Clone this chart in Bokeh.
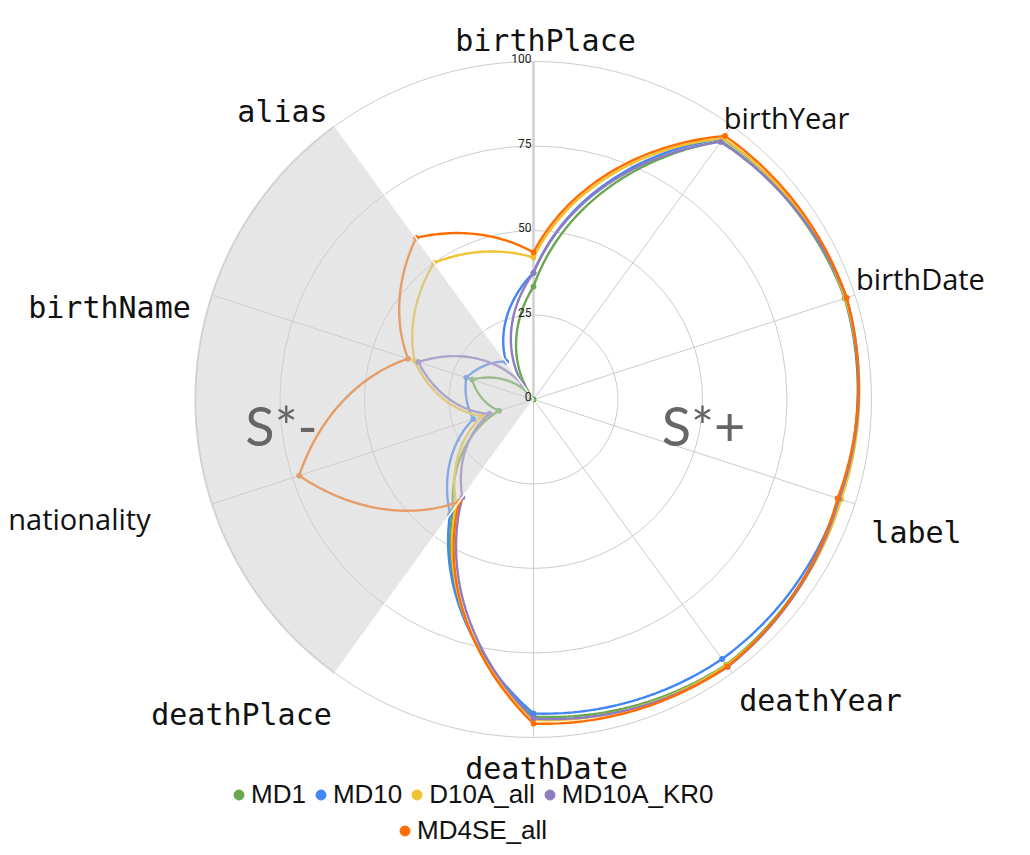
import numpy as np
from bokeh.plotting import figure
from bokeh.models import Range1d, Legend, LegendItem
from bokeh.core.properties import value
from bokeh.embed import file_html
from bokeh.resources import INLINE

# ---------------- data ----------------
axes = ["birthPlace", "birthYear", "birthDate", "label", "deathYear",
        "deathDate", "deathPlace", "nationality", "birthName", "alias"]
series_names = ["MD1", "MD10", "D10A_all", "MD10A_KR0", "MD4SE_all"]
md1 = [33.4, 94.5, 96.8, 95.0, 97.0, 93.8, 40.5, 10.7, 19.1, 0.0]
md10 = [37.5, 95.4, 97.0, 95.0, 94.9, 92.9, 42.0, 18.7, 20.9, 13.8]
d10a_all = [42.0, 95.5, 97.0, 95.7, 97.2, 94.8, 38.8, 15.9, 37.0, 50.0]
md10a_kr0 = [37.4, 94.2, 97.4, 95.0, 97.8, 94.4, 35.8, 13.7, 35.8, 5.3]
md4se_all = [43.5, 96.4, 97.4, 94.6, 97.6, 95.9, 37.3, 72.9, 39.0, 59.1]
ticks = [0, 25, 50, 75, 100]
tick_labels = ["0", "25", "50", "75", "100"]
zone_labels = ["S*-", "S*+"]

# ---------------- styles / layout ----------------
colors = ["#6aa84f", "#4285f4", "#f1c232", "#8e7cc3", "#ff6d01"]
all_series = [md1, md10, d10a_all, md10a_kr0, md4se_all]
W, H = 1014, 847
PX = 3.38                     # pixels per unit
CX, CY = 533, 399             # chart centre in frame pixels
RMAX = 100
mono = "DejaVu Sans Mono"
sans = "Open Sans"
label_layout = {
    "birthPlace": (545, 40, mono), "birthYear": (786, 117, sans),
    "birthDate": (920, 278, sans), "label": (916, 532, mono),
    "deathYear": (820, 700, mono), "deathDate": (546, 768, mono),
    "deathPlace": (241, 714, mono), "nationality": (79, 518, sans),
    "birthName": (109, 307, mono), "alias": (282, 111, mono),
}

def px2d(x, y):
    return (x - CX) / PX, (CY - y) / PX

n = len(axes)
step = 360.0 / n
theta = [i * step for i in range(n)]  # compass degrees, clockwise from north

p = figure(width=W, height=H, output_backend="svg", toolbar_location=None,
           x_axis_type=None, y_axis_type=None, min_border=0,
           x_range=Range1d(-CX / PX, (W - CX) / PX),
           y_range=Range1d(-(H - CY) / PX, CY / PX))
p.outline_line_color = None
p.grid.visible = False
p.background_fill_color = "white"

# grid circles
p.circle(x=[0] * 4, y=[0] * 4, radius=ticks[1:], fill_color=None,
         line_color="#cccccc", line_width=1)
# spokes
for i, t in enumerate(theta):
    a = np.radians(t)
    p.line([0, RMAX * np.sin(a)], [0, RMAX * np.cos(a)],
           line_color="#d0d0d0" if i == 0 else "#cccccc",
           line_width=2.5 if i == 0 else 1)

# series (segments interpolated in polar space, as the reference draws them)
def polar_path(vals, steps=40):
    xs, ys = [], []
    for i in range(n):
        r0, r1 = vals[i], vals[(i + 1) % n]
        t0 = theta[i]
        for k in range(steps):
            f = k / steps
            r = r0 + (r1 - r0) * f
            a = np.radians(t0 + step * f)
            xs.append(r * np.sin(a)); ys.append(r * np.cos(a))
    xs.append(xs[0]); ys.append(ys[0])
    return xs, ys

point_renderers = []
for vals, c in zip(all_series, colors):
    xs, ys = polar_path(vals)
    p.line(xs, ys, line_color=c, line_width=2.4)
    px = [v * np.sin(np.radians(t)) for v, t in zip(vals, theta)]
    py = [v * np.cos(np.radians(t)) for v, t in zip(vals, theta)]
    point_renderers.append(p.scatter(px, py, size=5, fill_color=c, line_color=c))

# shaded S*- sector (from deathPlace to alias through the left)
arc_t = np.radians(np.linspace(theta[6], theta[9], 120))
arc_x = RMAX * np.sin(arc_t)
arc_y = RMAX * np.cos(arc_t)
p.patch(np.concatenate([[0], arc_x, [0]]), np.concatenate([[0], arc_y, [0]]),
        fill_color="#cdcdcd", fill_alpha=0.5, line_color="white", line_width=1.5)
p.line(arc_x, arc_y, line_color="#d2d2d2", line_width=2)

# tick labels
p.text(x=[-0.6] * len(ticks), y=[t + 0.8 for t in ticks], text=tick_labels,
       text_align="right", text_baseline="alphabetic",
       text_font=value("Roboto"), text_font_size="12px", text_color="#222222")

# zone labels
zx, zy = px2d(281, 425)
zx2, zy2 = px2d(703, 425)
p.text(x=[zx, zx2], y=[zy, zy2], text=zone_labels, text_align="center",
       text_baseline="alphabetic", text_font=value("Lato"),
       text_font_size="54px", text_color="#666666")

# axis labels
for name in axes:
    lx, ly, f = label_layout[name]
    dx, dy = px2d(lx, ly)
    p.text(x=[dx], y=[dy], text=[name], text_align="center",
           text_baseline="alphabetic", text_font=value(f),
           text_font_size="30px" if f == mono else "29px",
           text_color="#111111")

# legends
def make_legend(idx, loc):
    items = [LegendItem(label=series_names[i], renderers=[point_renderers[i]])
             for i in idx]
    lg = Legend(items=items, orientation="horizontal", location=loc,
                glyph_width=25, glyph_height=25, label_standoff=0, spacing=2,
                padding=0, margin=0, border_line_color=None,
                background_fill_alpha=0,
                label_text_font="Liberation Sans",
                label_text_font_size="26px", label_text_color="#111111")
    p.add_layout(lg, "center")

make_legend([0, 1, 2, 3], (226, 37))
make_legend([4], (392, 1))

open("out.html", "w").write(file_html(p, INLINE))
